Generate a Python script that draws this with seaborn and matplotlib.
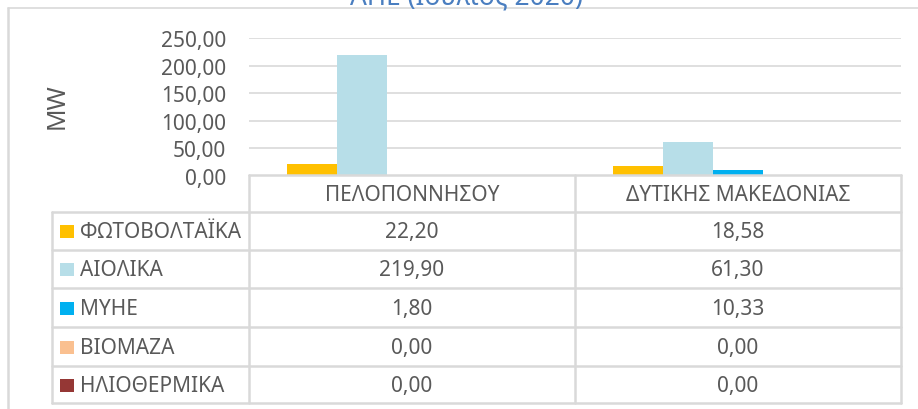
import matplotlib
matplotlib.use("Agg")
import matplotlib.pyplot as plt
import seaborn as sns
import pandas as pd
from matplotlib.lines import Line2D
from matplotlib.patches import Rectangle

categories = ["ΠΕΛΟΠΟΝΝΗΣΟΥ", "ΔΥΤΙΚΗΣ ΜΑΚΕΔΟΝΙΑΣ"]
series = ["ΦΩΤΟΒΟΛΤΑΪΚΑ", "ΑΙΟΛΙΚΑ", "ΜΥΗΕ", "ΒΙΟΜΑΖΑ", "ΗΛΙΟΘΕΡΜΙΚΑ"]
pv = [22.20, 18.58]
wind = [219.90, 61.30]
hydro = [1.80, 10.33]
biomass = [0.00, 0.00]
solar_thermal = [0.00, 0.00]
colors = ["#FFC000", "#B7DEE8", "#00B0F0", "#FAC090", "#953735"]
yticks = [0, 50, 100, 150, 200, 250]
title = "ΑΠΕ (Ιούλιος 2020)"
ylabel = "MW"

values = [pv, wind, hydro, biomass, solar_thermal]
rows = []
for s, vals in zip(series, values):
    for c, v in zip(categories, vals):
        rows.append({"cat": c, "series": s, "val": v})
df = pd.DataFrame(rows)

sns.set_theme(style="white")
plt.rcParams["font.family"] = ["Noto Sans", "DejaVu Sans"]
TXT = "#595959"
GRID = "#D9D9D9"
FS = 15

W, H = 918, 410
fig = plt.figure(figsize=(W / 100, H / 100), dpi=100)

ax_l, ax_r, ax_t, ax_b = 249, 901, 39, 177
ax = fig.add_axes([ax_l / W, 1 - ax_b / H, (ax_r - ax_l) / W, (ax_b - ax_t) / H])
sns.barplot(data=df, x="cat", y="val", hue="series", hue_order=series,
            palette=colors, width=0.767, ax=ax, legend=False,
            saturation=1, linewidth=0, errorbar=None)
ax.set_ylim(0, 250)
ax.set_xlim(-0.5, 1.5)
ax.set_yticks(yticks)
ax.set_yticklabels([f"{t:.2f}".replace(".", ",") for t in yticks],
                   color=TXT, fontsize=FS)
ax.tick_params(axis="y", length=0, pad=16.5)
ax.set_xticks([])
ax.set_xlabel("")
ax.set_ylabel("")
for sp in ax.spines.values():
    sp.set_visible(False)
ax.grid(axis="y", color=GRID, linewidth=1.2)
ax.set_axisbelow(True)

# overlay in pixel coordinates for table and frame
ov = fig.add_axes([0, 0, 1, 1], facecolor="none")
ov.set_xlim(0, W)
ov.set_ylim(H, 0)
ov.axis("off")
lw = 1.8
# chart border
ov.add_line(Line2D([8, W], [9, 9], color=GRID, lw=1.2))
ov.add_line(Line2D([8, 8], [9, H], color=GRID, lw=1.8))

ov.text(467, 5, title, ha="center", va="baseline", color="#4A7EC0",
        fontsize=19, fontweight="bold")
ov.text(57, 106, ylabel, ha="center", va="center", rotation=90,
        color=TXT, fontsize=18)

col_x = [52, 249, 575, 901]
row_y = [176, 213, 251, 289, 328, 367, 404]
# header row
ov.add_line(Line2D([249, 901], [row_y[0], row_y[0]], color=GRID, lw=lw))
for y in row_y[1:]:
    ov.add_line(Line2D([52, 901], [y, y], color=GRID, lw=lw))
ov.add_line(Line2D([52, 52], [row_y[1], row_y[-1]], color=GRID, lw=lw))
for x in col_x[1:]:
    ov.add_line(Line2D([x, x], [row_y[0], row_y[-1]], color=GRID, lw=lw))

for j, c in enumerate(categories):
    cx = (col_x[j + 1] + col_x[j + 2]) / 2
    ov.text(cx, (row_y[0] + row_y[1]) / 2 + 1, c, ha="center", va="center",
            color=TXT, fontsize=FS)
for i, (s, vals) in enumerate(zip(series, values)):
    cy = (row_y[i + 1] + row_y[i + 2]) / 2 + 1
    ov.add_patch(Rectangle((60, cy - 7), 14, 13, color=colors[i], lw=0))
    ov.text(80, cy, s, ha="left", va="center", color=TXT, fontsize=FS)
    for j, v in enumerate(vals):
        cx = (col_x[j + 1] + col_x[j + 2]) / 2
        ov.text(cx, cy, f"{v:.2f}".replace(".", ","), ha="center",
                va="center", color=TXT, fontsize=FS)

fig.savefig("out.png", dpi=100, facecolor="white")
